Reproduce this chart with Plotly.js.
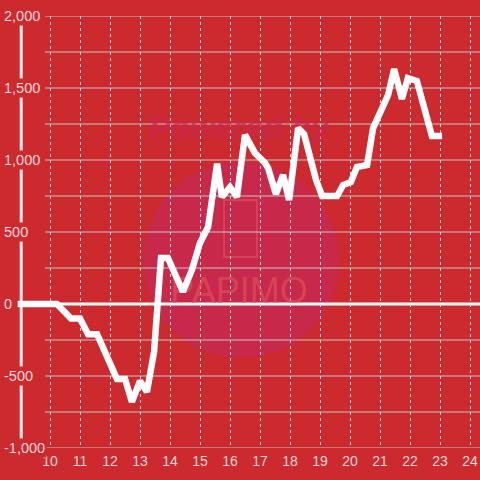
<!DOCTYPE html>
<html>
<head>
<meta charset="utf-8">
<script src="https://cdn.plot.ly/plotly-3.0.1.min.js"></script>
<style>
  html, body { margin: 0; padding: 0; background: #cc2a2f; }
  #chart { width: 480px; height: 480px; }
</style>
</head>
<body>
<div id="chart"></div>
<script>
// Hour of day (x) and running value (y)
const hours = [8.92, 10.23, 10.70, 11.00, 11.27, 11.57, 12.23, 12.50, 12.73, 13.00,
  13.23, 13.47, 13.70, 13.93, 14.43, 14.73, 15.00, 15.27, 15.57, 15.73,
  16.00, 16.23, 16.50, 16.83, 17.17, 17.27, 17.53, 17.77, 17.97, 18.27,
  18.47, 18.87, 19.07, 19.57, 19.77, 20.03, 20.23, 20.57, 20.77, 21.07,
  21.27, 21.47, 21.73, 21.93, 22.23, 22.73, 23.07];
const values = [0, 0, -100, -100, -210, -210, -520, -520, -680, -535,
  -610, -330, 320, 320, 85, 236, 424, 535, 975, 743,
  812, 743, 1174, 1049, 979, 944, 764, 896, 722, 1222,
  1180, 861, 750, 750, 826, 847, 951, 965, 1222, 1361,
  1451, 1632, 1424, 1569, 1549, 1167, 1167];

const xTicks = [10, 11, 12, 13, 14, 15, 16, 17, 18, 19, 20, 21, 22, 23, 24];
const yLabelVals = [2000, 1500, 1000, 500, 0, -500, -1000];
const yLabelText = ['2,000', '1,500', '1,000', '500', '0', '-500', '-1,000'];
const yGridVals = [-1000, -750, -500, -250, 250, 500, 750, 1000, 1250, 1500, 1750, 2000];

const BG = '#cc2a2f';
const TXT = '#f3d6d6';
const GRID = '#c9c4c4';

const shapes = [];
// watermark circle
shapes.push({type: 'circle', xref: 'x', yref: 'y', layer: 'below',
  x0: 16.37 - 3.27, x1: 16.37 + 3.27, y0: 306 - 681, y1: 306 + 681,
  fillcolor: '#c8284a', line: {width: 0}});
// watermark phone outline
shapes.push({type: 'rect', xref: 'x', yref: 'y', layer: 'below',
  x0: 15.80, x1: 16.90, y0: 326, y1: 722,
  fillcolor: 'rgba(0,0,0,0)', line: {color: 'rgba(225,85,95,0.55)', width: 2}});
// horizontal grid lines
yGridVals.forEach(v => shapes.push({type: 'line', xref: 'x', yref: 'y', layer: 'below',
  x0: 9.833, x1: 24.4, y0: v, y1: v, line: {color: GRID, width: 1}}));
// zero line
shapes.push({type: 'line', xref: 'x', yref: 'y', layer: 'below',
  x0: 9.0, x1: 24.4, y0: 0, y1: 0, line: {color: '#ffffff', width: 3}});
// y axis line
shapes.push({type: 'line', xref: 'x', yref: 'y', layer: 'below',
  x0: 9.04, x1: 9.04, y0: -1000, y1: 2000, line: {color: '#eeeeee', width: 3}});

const annotations = yLabelVals.map((v, i) => ({
  xref: 'paper', yref: 'y', x: 0.004, y: v, xanchor: 'left', yanchor: 'middle',
  text: yLabelText[i], showarrow: false, bgcolor: BG, borderpad: 1,
  font: {family: 'Liberation Sans, Arial, sans-serif', size: 14.5, color: TXT}
}));

const watermark = {
  x: [16.3, 16.3], y: [1210, 70], mode: 'text', type: 'scatter',
  text: ['<b><i>Powered by</i></b>', 'PAPIMO'],
  textfont: {family: 'Liberation Sans, Arial, sans-serif', size: [32, 36],
    color: ['rgba(200,40,80,0.7)', 'rgba(225,85,95,0.6)']},
  hoverinfo: 'skip', showlegend: false, cliponaxis: false
};

const line = {
  x: hours, y: values, type: 'scatter', mode: 'lines',
  line: {color: '#ffffff', width: 6.5, shape: 'linear'},
  hoverinfo: 'skip', showlegend: false
};

const layout = {
  width: 480, height: 480,
  margin: {l: 0, r: 0, t: 16, b: 32, pad: 0},
  paper_bgcolor: BG, plot_bgcolor: BG,
  showlegend: false,
  xaxis: {
    range: [8.333, 24.333], tickvals: xTicks, ticktext: xTicks.map(String),
    showgrid: true, gridcolor: '#e6dcdc', gridwidth: 1, griddash: 'dot',
    zeroline: false, showline: false, ticks: '', ticklabelstandoff: 3,
    tickfont: {family: 'Liberation Sans, Arial, sans-serif', size: 14, color: TXT},
    fixedrange: true
  },
  yaxis: {
    range: [-1000, 2000], showgrid: false, zeroline: false, showline: false,
    showticklabels: false, ticks: '', fixedrange: true
  },
  shapes: shapes,
  annotations: annotations
};

Plotly.newPlot('chart', [watermark, line], layout, {displayModeBar: false, staticPlot: true});
</script>
</body>
</html>
